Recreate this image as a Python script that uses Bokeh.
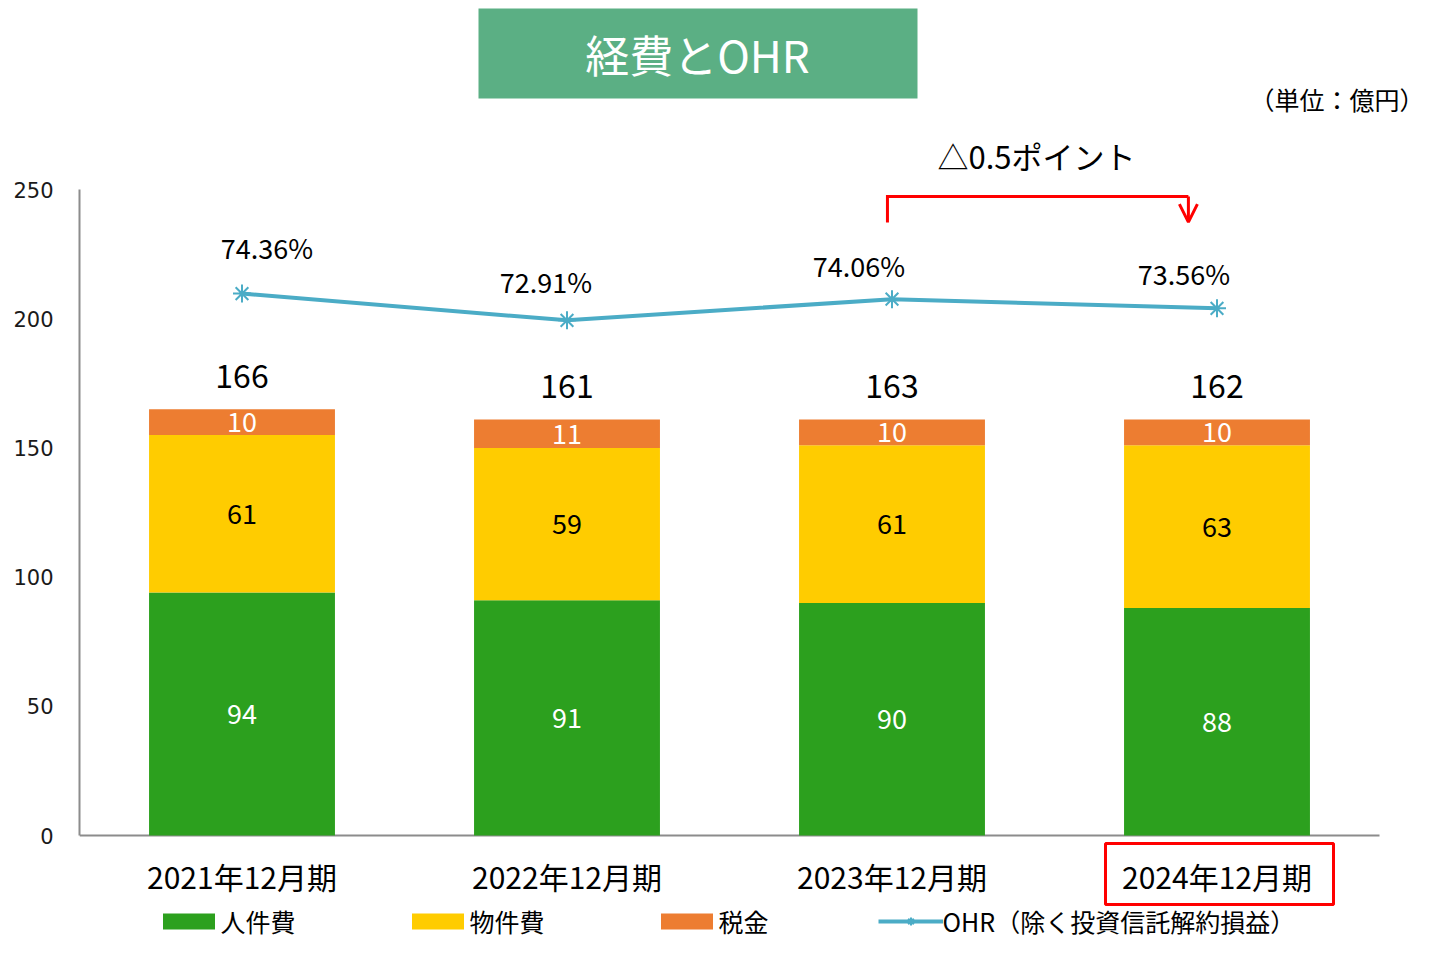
from bokeh.plotting import figure
from bokeh.models import (Range1d, FixedTicker, Label, BoxAnnotation, Legend, LegendItem,
                          ColumnDataSource, Arrow, OpenHead)
from bokeh.core.properties import value
from bokeh.embed import file_html
from bokeh.resources import INLINE

# ---------------- data ----------------
categories = ["2021年12月期", "2022年12月期", "2023年12月期", "2024年12月期"]
personnel = [94, 91, 90, 88]          # 人件費
property_cost = [61, 59, 61, 63]      # 物件費
taxes = [10, 11, 10, 10]              # 税金
totals = [166, 161, 163, 162]
ohr = [74.36, 72.91, 74.06, 73.56]
ohr_labels = ["74.36%", "72.91%", "74.06%", "73.56%"]
y_ticks = [0, 50, 100, 150, 200, 250]
ohr_axis_range = [45, 80]             # hidden secondary axis (%)
series_names = ["人件費", "物件費", "税金"]
ohr_name = "OHR（除く投資信託解約損益）"
title_text = "経費とOHR"
unit_text = "（単位：億円）"
delta_text = "△0.5ポイント"

# label offsets (styling, pixels)
ohr_label_dx = [25, -21, -33, -33]
ohr_label_dy = [-46, -39, -34, -35]

FONT = "Noto Sans CJK JP"
GREEN = "#2CA01E"
YELLOW = "#FFCC00"
ORANGE = "#ED7D31"
LINE = "#4BACC6"
TITLE_BG = "#5BAF84"
AXIS = "#8C8C8C"

W, H = 1424, 939
LEFT = 79                      # plot-area left edge (canvas px)
AX_TOP, AX_BOTTOM = 189, 835   # pixel rows of the 250 and 0 ticks
CAT_W = 325                    # pixels per category
ppu = (AX_BOTTOM - AX_TOP) / float(y_ticks[-1] - y_ticks[0])
ohr_ppu = (AX_BOTTOM - AX_TOP) / float(ohr_axis_range[1] - ohr_axis_range[0])

xs = list(range(len(categories)))
x_start = -0.5
x_end = x_start + (W - LEFT) / CAT_W
y_start = y_ticks[0] - (H - AX_BOTTOM) / ppu
y_end = y_ticks[-1] + AX_TOP / ppu
o_start = ohr_axis_range[0] - (H - AX_BOTTOM) / ohr_ppu
o_end = ohr_axis_range[1] + AX_TOP / ohr_ppu

p = figure(width=W, height=H, output_backend="svg", toolbar_location=None,
           x_range=Range1d(x_start, x_end), y_range=Range1d(y_start, y_end),
           x_axis_location=None,
           min_border_left=LEFT, min_border_right=0, min_border_top=0, min_border_bottom=0)
p.title.visible = False
p.extra_y_ranges = {"ohr": Range1d(o_start, o_end)}
p.xgrid.visible = False
p.ygrid.visible = False
p.outline_line_color = None
p.background_fill_color = "white"
p.border_fill_color = "white"

# y axis (only spans 0..250)
p.yaxis.ticker = FixedTicker(ticks=y_ticks)
p.yaxis.bounds = (y_ticks[0], y_ticks[-1])
p.yaxis.major_tick_out = 0
p.yaxis.major_tick_in = 0
p.yaxis.minor_tick_out = 0
p.yaxis.minor_tick_in = 0
p.yaxis.axis_line_color = AXIS
p.yaxis.axis_line_width = 2
p.yaxis.major_label_text_font = "DejaVu Sans"
p.yaxis.major_label_text_font_size = "21px"
p.yaxis.major_label_text_color = "#1a1a1a"
p.yaxis.major_label_standoff = 26

# x baseline and category labels
p.segment(x0=[xs[0] - 0.5], y0=[0], x1=[xs[-1] + 0.5], y1=[0], line_color=AXIS, line_width=2)
p.text(x=xs, y=[0] * len(xs), text=categories, y_offset=40, text_color="black",
       text_font=value(FONT), text_font_size="30px", text_align="center", text_baseline="middle")

# stacked bars
src = ColumnDataSource(dict(x=xs, personnel=personnel, prop=property_cost, taxes=taxes))
bars = p.vbar_stack(["personnel", "prop", "taxes"], x="x", width=0.572, source=src,
                    color=[GREEN, YELLOW, ORANGE], line_color=None)

mid1 = [a / 2 for a in personnel]
mid2 = [a + b / 2 for a, b in zip(personnel, property_cost)]
mid3 = [a + b + c / 2 for a, b, c in zip(personnel, property_cost, taxes)]
tops = [a + b + c for a, b, c in zip(personnel, property_cost, taxes)]

common = dict(text_font=value(FONT), text_align="center", text_baseline="middle")
p.text(x=xs, y=mid1, text=[str(v) for v in personnel], text_color="white", text_font_size="27px", **common)
p.text(x=xs, y=mid2, text=[str(v) for v in property_cost], text_color="black", text_font_size="27px", **common)
p.text(x=xs, y=mid3, text=[str(v) for v in taxes], text_color="white", text_font_size="27px", **common)
p.text(x=xs, y=tops, text=[str(v) for v in totals], y_offset=-33, text_color="black",
       text_font_size="32px", **common)

# OHR line
ohr_src = ColumnDataSource(dict(x=xs, y=ohr, label=ohr_labels, dx=ohr_label_dx, dy=ohr_label_dy))
ln = p.line("x", "y", source=ohr_src, y_range_name="ohr", line_color=LINE, line_width=4)
sc = p.scatter("x", "y", source=ohr_src, y_range_name="ohr", marker="asterisk", size=18,
               line_color=LINE, line_width=2)
p.text(x="x", y="y", text="label", x_offset="dx", y_offset="dy", source=ohr_src, y_range_name="ohr",
       text_color="black", text_font_size="27px", **common)

# bracket with arrow
p.line(x=[1.986, 1.986, 2.912], y=[237.2, 247.3, 247.3], line_color="red", line_width=3, line_join="miter")
p.add_layout(Arrow(end=OpenHead(size=18, line_color="red", line_width=3),
                   x_start=2.912, y_start=247.3, x_end=2.912, y_end=237.4,
                   line_color="red", line_width=3))

# title box
p.add_layout(BoxAnnotation(left=478, right=917, top=8, bottom=98,
                           left_units="canvas", right_units="canvas", top_units="canvas", bottom_units="canvas",
                           fill_color=TITLE_BG, fill_alpha=1, line_color=None))
p.add_layout(Label(x=697 - LEFT, y=H - 53, x_units="screen", y_units="screen", text=title_text,
                   text_font=FONT, text_font_size="44px", text_color="white",
                   text_align="center", text_baseline="middle"))
p.add_layout(Label(x=W - LEFT, y=H - 98, x_units="screen", y_units="screen", text=unit_text,
                   text_font=FONT, text_font_size="25px", text_color="black",
                   text_align="right", text_baseline="middle"))
p.add_layout(Label(x=937 - LEFT, y=H - 155, x_units="screen", y_units="screen", text=delta_text,
                   text_font=FONT, text_font_size="31px", text_color="black",
                   text_align="left", text_baseline="middle"))

# red highlight box around last category label
p.add_layout(BoxAnnotation(left=1105, right=1333, top=843, bottom=904,
                           left_units="canvas", right_units="canvas", top_units="canvas", bottom_units="canvas",
                           fill_alpha=0, line_color="red", line_alpha=1, line_width=3))

# legend
legend = Legend(items=[LegendItem(label=series_names[0], renderers=[bars[0]]),
                       LegendItem(label=series_names[1], renderers=[bars[1]]),
                       LegendItem(label=series_names[2], renderers=[bars[2]]),
                       LegendItem(label=ohr_name, renderers=[ln, sc])],
                location=(155.5 - LEFT, 0), orientation="horizontal",
                glyph_width=65, glyph_height=20, label_standoff=0, spacing=109,
                padding=0, margin=0, border_line_alpha=0, background_fill_alpha=0,
                label_text_font=FONT, label_text_font_size="25px", label_text_color="black")
p.add_layout(legend, "center")

open("out.html", "w").write(file_html(p, INLINE))
